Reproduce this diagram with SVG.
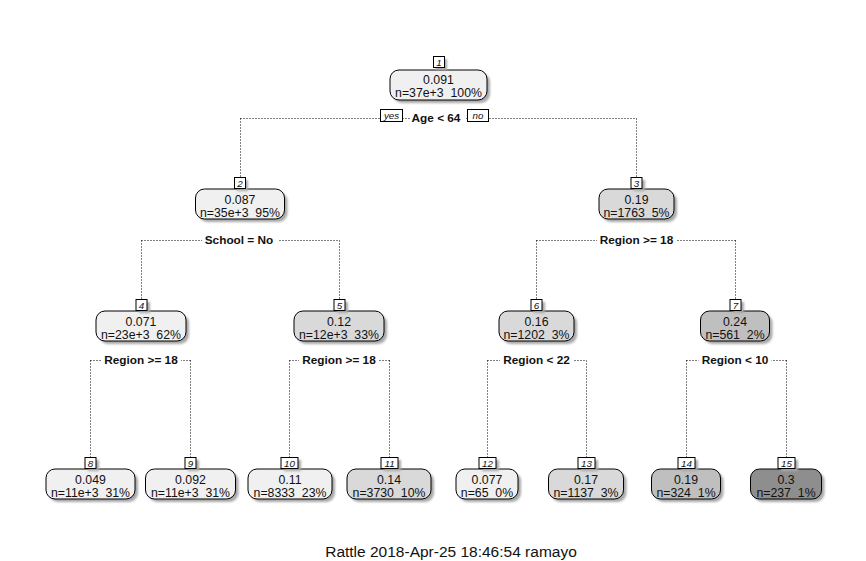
<svg xmlns="http://www.w3.org/2000/svg" width="866" height="561" viewBox="0 0 866 561">
<defs>
<filter id="blur" x="-10%" y="-10%" width="130%" height="140%"><feGaussianBlur stdDeviation="1.1"/></filter>
<style>
text{font-family:"Liberation Sans",Arial,sans-serif;fill:#111;white-space:pre}
.sh{fill:#a8a8a8;filter:url(#blur)}
.bx{stroke:#000;stroke-width:1}
.c1{fill:#f0f0f0}.c2{fill:#d9d9d9}.c3{fill:#bfbfbf}.c4{fill:#8e8e8e}
.nb{fill:#fff;stroke:#000;stroke-width:1}
.t{font-size:12.3px;text-anchor:middle}
.num{font-size:9.8px;font-style:italic;text-anchor:middle}
.lab{font-size:11.8px;font-weight:bold;text-anchor:middle}
.conn{stroke:#000;stroke-width:1;stroke-dasharray:1 2;fill:none}
.mask{fill:#fff}
.yn{fill:#fff;stroke:#000;stroke-width:1}
</style>
</defs>
<rect width="866" height="561" fill="#fff"/>
<g id="connectors">
<path class="conn" d="M240.5 118.5H636.5M240.5 118.5V177M636.5 118.5V177"/>
<path class="conn" d="M141.5 240.5H339.5M141.5 240.5V299M339.5 240.5V299"/>
<path class="conn" d="M536.5 240.5H735.5M536.5 240.5V299M735.5 240.5V299"/>
<path class="conn" d="M90.5 360.5H190.5M90.5 360.5V457M190.5 360.5V457"/>
<path class="conn" d="M289.5 360.5H389.5M289.5 360.5V457M389.5 360.5V457"/>
<path class="conn" d="M487.5 360.5H586.5M487.5 360.5V457M586.5 360.5V457"/>
<path class="conn" d="M686.5 360.5H786.5M686.5 360.5V457M786.5 360.5V457"/>
</g>
<g id="split-labels">
<g id="split1">
<rect class="mask" x="410" y="110" width="56" height="14"/>
<text class="lab" x="436" y="122">Age &lt; 64</text>
<rect class="yn" x="380.5" y="109.5" width="22" height="12"/>
<text class="num" x="391.5" y="119">yes</text>
<rect class="yn" x="467.5" y="109.5" width="21" height="12"/>
<text class="num" x="478" y="119">no</text>
</g>
<g id="split2"><rect class="mask" x="202" y="233" width="76" height="14"/><text class="lab" x="239" y="244">School = No</text></g>
<g id="split3"><rect class="mask" x="597" y="233" width="79" height="14"/><text class="lab" x="636.5" y="244">Region &gt;= 18</text></g>
<g id="split4"><rect class="mask" x="101" y="353" width="80" height="14"/><text class="lab" x="141" y="364">Region &gt;= 18</text></g>
<g id="split5"><rect class="mask" x="299" y="353" width="80" height="14"/><text class="lab" x="339" y="364">Region &gt;= 18</text></g>
<g id="split6"><rect class="mask" x="500" y="353" width="73" height="14"/><text class="lab" x="536.5" y="364">Region &lt; 22</text></g>
<g id="split7"><rect class="mask" x="698.5" y="353" width="73" height="14"/><text class="lab" x="735" y="364">Region &lt; 10</text></g>
</g>
<g id="node1">
<rect class="sh" x="393" y="73" width="97" height="30" rx="9"/>
<rect class="bx c1" x="390" y="70" width="97" height="30" rx="9"/>
<text class="t" x="438.5" y="84">0.091</text>
<text class="t" x="438.5" y="97">n=37e+3  100%</text>
<rect class="sh" x="436" y="59" width="11" height="11"/>
<rect class="nb" x="433.5" y="56.5" width="11" height="11"/>
<text class="num" x="439" y="65.5">1</text>
</g>
<g id="node2">
<rect class="sh" x="198.5" y="192" width="89" height="30" rx="9"/>
<rect class="bx c1" x="195.5" y="189" width="89" height="30" rx="9"/>
<text class="t" x="240" y="203.5">0.087</text>
<text class="t" x="240" y="216.5">n=35e+3  95%</text>
<rect class="sh" x="237" y="180" width="11" height="11"/>
<rect class="nb" x="234.5" y="177.5" width="11" height="11"/>
<text class="num" x="240" y="186.5">2</text>
</g>
<g id="node3">
<rect class="sh" x="602" y="192" width="75" height="30" rx="9"/>
<rect class="bx c2" x="599" y="189" width="75" height="30" rx="9"/>
<text class="t" x="636.5" y="203.5">0.19</text>
<text class="t" x="636.5" y="216.5">n=1763  5%</text>
<rect class="sh" x="634" y="180" width="11" height="11"/>
<rect class="nb" x="631" y="177.5" width="11" height="11"/>
<text class="num" x="636.5" y="186.5">3</text>
</g>
<g id="node4">
<rect class="sh" x="99" y="314" width="90" height="30" rx="9"/>
<rect class="bx c1" x="96" y="311" width="90" height="30" rx="9"/>
<text class="t" x="141" y="325.5">0.071</text>
<text class="t" x="141" y="338.5">n=23e+3  62%</text>
<rect class="sh" x="139" y="302" width="11" height="11"/>
<rect class="nb" x="136" y="299.5" width="11" height="11"/>
<text class="num" x="141.5" y="308.5">4</text>
</g>
<g id="node5">
<rect class="sh" x="297" y="314" width="90" height="30" rx="9"/>
<rect class="bx c2" x="294" y="311" width="90" height="30" rx="9"/>
<text class="t" x="339" y="325.5">0.12</text>
<text class="t" x="339" y="338.5">n=12e+3  33%</text>
<rect class="sh" x="337" y="302" width="11" height="11"/>
<rect class="nb" x="334" y="299.5" width="11" height="11"/>
<text class="num" x="339.5" y="308.5">5</text>
</g>
<g id="node6">
<rect class="sh" x="502" y="314" width="75" height="30" rx="9"/>
<rect class="bx c2" x="499" y="311" width="75" height="30" rx="9"/>
<text class="t" x="536.5" y="325.5">0.16</text>
<text class="t" x="536.5" y="338.5">n=1202  3%</text>
<rect class="sh" x="534" y="302" width="11" height="11"/>
<rect class="nb" x="531" y="299.5" width="11" height="11"/>
<text class="num" x="536.5" y="308.5">6</text>
</g>
<g id="node7">
<rect class="sh" x="703.5" y="314" width="69" height="30" rx="9"/>
<rect class="bx c3" x="700.5" y="311" width="69" height="30" rx="9"/>
<text class="t" x="735" y="325.5">0.24</text>
<text class="t" x="735" y="338.5">n=561  2%</text>
<rect class="sh" x="733" y="302" width="11" height="11"/>
<rect class="nb" x="730" y="299.5" width="11" height="11"/>
<text class="num" x="735.5" y="308.5">7</text>
</g>
<g id="node8">
<rect class="sh" x="49" y="472" width="89" height="30" rx="9"/>
<rect class="bx c1" x="46" y="469" width="89" height="30" rx="9"/>
<text class="t" x="90.5" y="483.5">0.049</text>
<text class="t" x="90.5" y="496.5">n=11e+3  31%</text>
<rect class="sh" x="88" y="460" width="11" height="11"/>
<rect class="nb" x="85" y="457.5" width="11" height="11"/>
<text class="num" x="90.5" y="466.5">8</text>
</g>
<g id="node9">
<rect class="sh" x="148.5" y="472" width="90" height="30" rx="9"/>
<rect class="bx c1" x="145.5" y="469" width="90" height="30" rx="9"/>
<text class="t" x="190.5" y="483.5">0.092</text>
<text class="t" x="190.5" y="496.5">n=11e+3  31%</text>
<rect class="sh" x="188" y="460" width="11" height="11"/>
<rect class="nb" x="185" y="457.5" width="11" height="11"/>
<text class="num" x="190.5" y="466.5">9</text>
</g>
<g id="node10">
<rect class="sh" x="251" y="472" width="84" height="30" rx="9"/>
<rect class="bx c1" x="248" y="469" width="84" height="30" rx="9"/>
<text class="t" x="290" y="483.5">0.11</text>
<text class="t" x="290" y="496.5">n=8333  23%</text>
<rect class="sh" x="284" y="460" width="17" height="11"/>
<rect class="nb" x="281" y="457.5" width="17" height="11"/>
<text class="num" x="289.5" y="466.5">10</text>
</g>
<g id="node11">
<rect class="sh" x="350" y="472" width="84" height="30" rx="9"/>
<rect class="bx c2" x="347" y="469" width="84" height="30" rx="9"/>
<text class="t" x="389" y="483.5">0.14</text>
<text class="t" x="389" y="496.5">n=3730  10%</text>
<rect class="sh" x="384" y="460" width="17" height="11"/>
<rect class="nb" x="381" y="457.5" width="17" height="11"/>
<text class="num" x="389.5" y="466.5">11</text>
</g>
<g id="node12">
<rect class="sh" x="459" y="472" width="62" height="30" rx="9"/>
<rect class="bx c1" x="456" y="469" width="62" height="30" rx="9"/>
<text class="t" x="487" y="483.5">0.077</text>
<text class="t" x="487" y="496.5">n=65  0%</text>
<rect class="sh" x="482" y="460" width="17" height="11"/>
<rect class="nb" x="479" y="457.5" width="17" height="11"/>
<text class="num" x="487.5" y="466.5">12</text>
</g>
<g id="node13">
<rect class="sh" x="551.5" y="472" width="75" height="30" rx="9"/>
<rect class="bx c2" x="548.5" y="469" width="75" height="30" rx="9"/>
<text class="t" x="586" y="483.5">0.17</text>
<text class="t" x="586" y="496.5">n=1137  3%</text>
<rect class="sh" x="581" y="460" width="17" height="11"/>
<rect class="nb" x="578" y="457.5" width="17" height="11"/>
<text class="num" x="586.5" y="466.5">13</text>
</g>
<g id="node14">
<rect class="sh" x="654.5" y="472" width="69" height="30" rx="9"/>
<rect class="bx c3" x="651.5" y="469" width="69" height="30" rx="9"/>
<text class="t" x="686" y="483.5">0.19</text>
<text class="t" x="686" y="496.5">n=324  1%</text>
<rect class="sh" x="681" y="460" width="17" height="11"/>
<rect class="nb" x="678" y="457.5" width="17" height="11"/>
<text class="num" x="686.5" y="466.5">14</text>
</g>
<g id="node15">
<rect class="sh" x="753.5" y="472" width="71" height="30" rx="9"/>
<rect class="bx c4" x="750.5" y="469" width="71" height="30" rx="9"/>
<text class="t" x="786" y="483.5">0.3</text>
<text class="t" x="786" y="496.5">n=237  1%</text>
<rect class="sh" x="781" y="460" width="17" height="11"/>
<rect class="nb" x="778" y="457.5" width="17" height="11"/>
<text class="num" x="786.5" y="466.5">15</text>
</g>
<text x="451" y="557" style="font-size:15.5px;text-anchor:middle">Rattle 2018-Apr-25 18:46:54 ramayo</text>
</svg>
